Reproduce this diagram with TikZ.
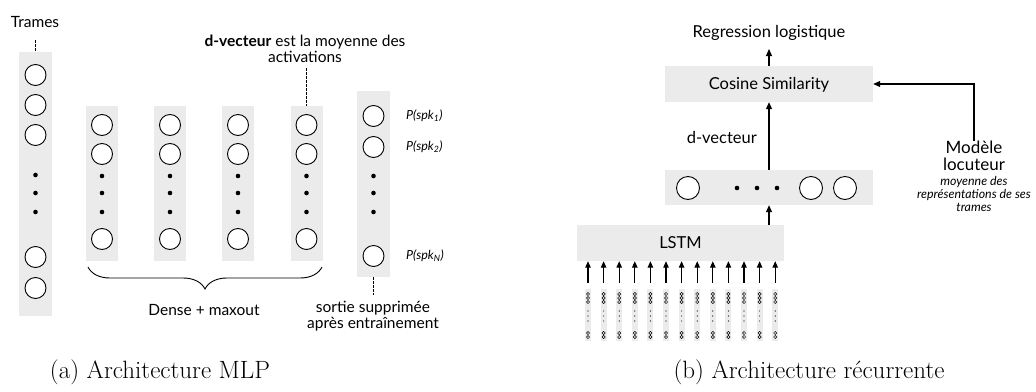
\documentclass[tikz,border=0pt]{standalone}
\usepackage{fontspec}
\newfontfamily\diag{Lato}
\usetikzlibrary{arrows.meta,decorations.pathreplacing}
\definecolor{panelgray}{HTML}{EBEBEB}
\tikzset{
  panel/.style={fill=panelgray,draw=none,inner sep=0pt},
  neuron/.style={circle,draw=black,line width=0.9pt,fill=white,minimum size=21pt,inner sep=0pt},
  bigneuron/.style={circle,draw=black,line width=0.9pt,fill=white,minimum size=23pt,inner sep=0pt},
  ndot/.style={circle,fill=black,minimum size=4.6pt,inner sep=0pt},
  lbl/.style={font=\diag\fontsize{15.5}{15.5}\selectfont,inner sep=0pt,align=center},
  blbl/.style={font=\diag\fontsize{16.5}{18}\selectfont,inner sep=0pt,align=center},
  plbl/.style={font=\diag\itshape\fontsize{12.5}{13}\selectfont,inner sep=0pt,anchor=west},
  notelbl/.style={font=\diag\itshape\fontsize{12.4}{12.6}\selectfont,inner sep=0pt,align=center},
  biglbl/.style={font=\diag\fontsize{17}{17}\selectfont,inner sep=0pt,align=center},
  caplbl/.style={font=\fontsize{25}{28}\selectfont,inner sep=0pt},
  dashline/.style={dashed,dash pattern=on 2.5pt off 1.5pt,line width=0.8pt},
  arr/.style={line width=1.1pt,-{Triangle[length=7pt,width=6pt]}},
  sarr/.style={line width=1.1pt,-{Triangle[length=6.5pt,width=5.5pt]}},
}
\begin{document}
\begin{tikzpicture}[x=1pt,y=-1pt]
\useasboundingbox (0,0) rectangle (1036,391);

% ---------------- (a) MLP ----------------
\node[lbl] (trames) at (35,22) {Trames};
\node[panel,minimum width=33pt,minimum height=264pt] (ptr) at (35.5,184) {};
\coordinate (trtop) at (35.5,40);
\draw[dashline] (trtop) -- (ptr.north);
\foreach \y [count=\k] in {75,105,135,257,288} \node[neuron] (tr\k) at (35.5,\y) {};
\foreach \y [count=\k] in {175,193,212} \node[ndot] (trd\k) at (35.5,\y) {};

\foreach \x [count=\c] in {102,170,238,306.5} {
  \node[panel,minimum width=32pt,minimum height=155pt] (pd\c) at (\x,183.5) {};
  \foreach \y [count=\k] in {125,154,239} \node[neuron] (d\c n\k) at (\x,\y) {};
  \foreach \y [count=\k] in {176,193,212} \node[ndot] (d\c d\k) at (\x,\y) {};
}
\node[lbl] (dvnote) at (305,49) {\textbf{d-vecteur} est la moyenne des\\activations};
\coordinate (dvtop) at (306.5,68);
\draw[dashline] (dvtop) -- (pd4.north);

\node[panel,minimum width=33pt,minimum height=186pt] (pout) at (373.5,184) {};
\foreach \y [count=\k] in {116,147,256} \node[neuron] (o\k) at (373.5,\y) {};
\foreach \y [count=\k] in {176,193,212} \node[ndot] (od\k) at (373.5,\y) {};
\node[plbl] (p1) at (406,116) {P(spk\textsubscript{1})};
\node[plbl] (p2) at (406,147) {P(spk\textsubscript{2})};
\node[plbl] (pN) at (406,256) {P(spk\textsubscript{N})};
\coordinate (outbot) at (373.5,295);
\draw[dashline] (pout.south) -- (outbot);
\node[lbl] (sortie) at (373,316) {sortie supprimée\\après entraînement};

\coordinate (brl) at (88,267);
\coordinate (brr) at (322,267);
\draw[line width=0.9pt,decorate,decoration={brace,mirror,amplitude=22pt}] (brl) -- (brr);
\node[lbl] (dense) at (204,310) {Dense + maxout};

\node[caplbl] (capa) at (160,372) {(a) Architecture MLP};

% ---------------- (b) recurrent ----------------
\node[blbl] (reg) at (769,33) {Regression logistique};
\node[panel,minimum width=208pt,minimum height=36pt] (cos) at (769,84) {};
\node[blbl] (costxt) at (769,85) {Cosine Similarity};
\coordinate (regin) at (769,49);
\draw[arr] (cos.north) -- (regin);

\node[panel,minimum width=208pt,minimum height=35pt] (vec) at (769,187.5) {};
\foreach \x [count=\k] in {688,811,845} \node[bigneuron] (v\k) at (\x,188) {};
\foreach \x [count=\k] in {737,757,777} \node[ndot] (vd\k) at (\x,188) {};
\draw[arr] (vec.north) -- (cos.south);
\node[blbl,anchor=east] (dvlab) at (757,137) {d-vecteur};

\node[panel,minimum width=207pt,minimum height=36pt] (lstm) at (680.5,243) {};
\node[blbl] (lstmtxt) at (680.5,243) {LSTM};
\draw[arr] (vec.south |- lstm.north) -- (vec.south);

\foreach \i in {0,...,12} {
  \pgfmathsetmacro{\sx}{588+15.6*\i}
  \node[panel,minimum width=6pt,minimum height=52pt] (s\i) at (\sx,315) {};
  \foreach \yy in {294,298,302,333,337} \draw[line width=0.5pt] (\sx,\yy) circle (1.6pt);
  \foreach \yy in {311,316,321} \fill (\sx,\yy) circle (0.6pt);
  \draw[sarr,shorten <=6pt] (s\i.north) -- (s\i.north |- lstm.south);
}

\node[biglbl] (modele) at (974,156) {Modèle\\locuteur};
\draw[arr] (modele.north) |- (cos.east);
\node[notelbl] (modnote) at (974,194) {moyenne des\\représentations de ses\\trames};

\node[caplbl] (capb) at (809,372) {(b) Architecture récurrente};
\end{tikzpicture}
\end{document}
